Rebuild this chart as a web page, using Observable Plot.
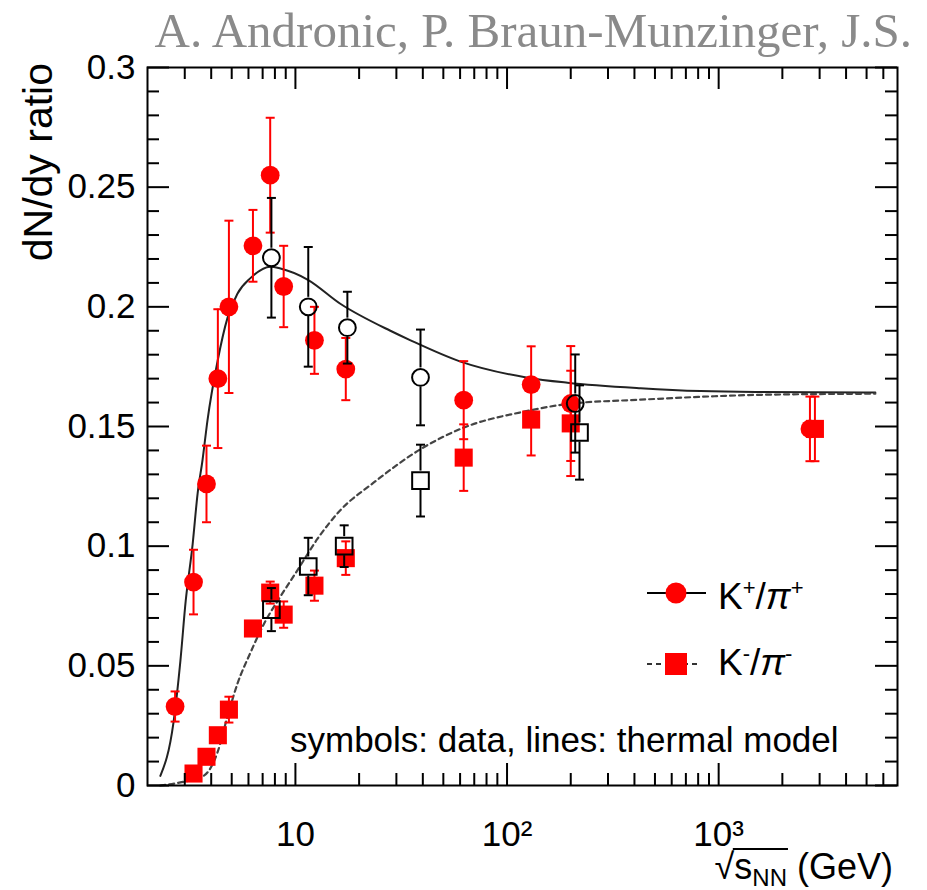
<!DOCTYPE html>
<html><head><meta charset="utf-8">
<script src="https://cdn.jsdelivr.net/npm/d3@7"></script>
<script src="https://cdn.jsdelivr.net/npm/@observablehq/plot@0.6"></script>
<style>
body{margin:0;background:#fff;}
#wrap{position:relative;width:927px;height:890px;overflow:hidden;}
#title{position:absolute;left:0;top:6px;width:912px;text-align:right;font-family:"Liberation Serif","Times New Roman",serif;font-size:49px;line-height:1;color:#8a8a8a;white-space:nowrap;z-index:2;}
</style></head><body>
<div id="wrap"><div id="chart"></div><div id="title">A. Andronic, P. Braun-Munzinger, J.S.</div></div>
<script>
// ---------- data ----------
// K+/pi+ data (red filled circles)
const kpE   = [2.7, 3.3, 3.8, 4.3, 4.85, 6.3, 7.6, 8.8, 12.3, 17.3, 62.4, 130, 200, 2700];
const kpR   = [0.033, 0.085, 0.126, 0.170, 0.200, 0.2255, 0.255, 0.2085, 0.186, 0.174, 0.161, 0.1675, 0.1596, 0.149];
const kpErr = [0.0063, 0.0135, 0.016, 0.029, 0.036, 0.015, 0.024, 0.017, 0.014, 0.013, 0.0163, 0.016, 0.024, 0.0135];
// K-/pi- data (red filled squares)
const kmE   = [3.3, 3.8, 4.3, 4.85, 6.3, 7.6, 8.8, 12.3, 17.3, 62.4, 130, 200, 2850];
const kmR   = [0.005, 0.012, 0.021, 0.0317, 0.0656, 0.0806, 0.0714, 0.0835, 0.095, 0.137, 0.1529, 0.1513, 0.149];
const kmErr = [0, 0, 0, 0.0054, 0, 0.0046, 0.0055, 0.0063, 0.007, 0.0139, 0.015, 0.022, 0.0135];
// other K+/pi+ data (black open circles)
const kpOE   = [7.7, 11.5, 17.6, 39, 210];
const kpOR   = [0.2205, 0.200, 0.1913, 0.1705, 0.1596];
const kpOErr = [0.025, 0.025, 0.015, 0.020, 0.0205];
// other K-/pi- data (black open squares)
const kmOE   = [7.7, 11.5, 17.0, 39, 220];
const kmOR   = [0.0735, 0.0915, 0.100, 0.1274, 0.1475];
const kmOErr = [0.009, 0.012, 0.0087, 0.015, 0.0197];
// thermal model curves
const thKpE = [2.30, 2.65, 2.86, 3.03, 3.27, 3.45, 3.64, 3.84, 4.29, 4.78, 5.32, 6.13, 7.62, 8.5, 11.4, 16.3, 28.1, 35, 60.3, 125, 193, 428, 820, 1500, 5500];
const thKpR = [0.004, 0.026, 0.052, 0.077, 0.101, 0.122, 0.136, 0.1525, 0.1775, 0.1955, 0.2055, 0.212, 0.2168, 0.216, 0.2114, 0.2013, 0.190, 0.186, 0.1771, 0.1704, 0.1683, 0.1660, 0.1648, 0.1644, 0.1642];
const thKmE = [2.3, 2.86, 3.68, 4.29, 4.78, 5.32, 6.13, 7.07, 8.5, 10.2, 12.7, 16.3, 23.4, 39, 60.3, 125, 193, 428, 820, 1500, 5500];
const thKmR = [0.0, 0.0013, 0.004, 0.014, 0.029, 0.0425, 0.0555, 0.0672, 0.0790, 0.0898, 0.1030, 0.1150, 0.1265, 0.1405, 0.1490, 0.1565, 0.1594, 0.1612, 0.1624, 0.1632, 0.1637];
// axes
const xDomain = [2, 7000];
const yDomain = [0, 0.3];
const xMajor = [10, 100, 1000];
const xMinor = [3,4,5,6,7,8,9, 20,30,40,50,60,70,80,90, 200,300,400,500,600,700,800,900, 2000,3000,4000,5000,6000];
const xLabels = {10: "10", 100: "10²", 1000: "10³"};
const yMajor = [0, 0.05, 0.1, 0.15, 0.2, 0.25, 0.3];
const yMinor = [0.01,0.02,0.03,0.04, 0.06,0.07,0.08,0.09, 0.11,0.12,0.13,0.14, 0.16,0.17,0.18,0.19, 0.21,0.22,0.23,0.24, 0.26,0.27,0.28,0.29];

// ---------- build ----------
const rows = (E, R, Er) => E.map((e, i) => ({e, r: R[i], err: Er ? Er[i] : 0}));
const kp = rows(kpE, kpR, kpErr), km = rows(kmE, kmR, kmErr);
const kpO = rows(kpOE, kpOR, kpOErr), kmO = rows(kmOE, kmOR, kmOErr);
const thKp = rows(thKpE, thKpR), thKm = rows(thKmE, thKmR);

const W = 927, H = 890, ML = 147, MR = 30, MT = 67, MB = 105;
const innerW = W - ML - MR, innerH = H - MT - MB;
const FONT = '"Liberation Sans", Arial, Helvetica, sans-serif';
const cap = {draw(ctx) { ctx.moveTo(-4.5, 0); ctx.lineTo(4.5, 0); }};
const TK = {stroke: "black", strokeWidth: 2};

function errMarks(data, color, gap) {
  const d = data.filter(o => o.err > 0);
  const ms = [];
  if (gap) {
    ms.push(Plot.ruleX(d, {x: "e", y1: o => o.r + o.err, y2: "r", insetBottom: gap, stroke: color, strokeWidth: 2}));
    ms.push(Plot.ruleX(d, {x: "e", y1: "r", y2: o => o.r - o.err, insetTop: gap, stroke: color, strokeWidth: 2}));
  } else {
    ms.push(Plot.ruleX(d, {x: "e", y1: o => o.r + o.err, y2: o => o.r - o.err, stroke: color, strokeWidth: 2}));
  }
  ms.push(Plot.dot(d, {x: "e", y: o => o.r + o.err, symbol: cap, fill: "none", stroke: color, strokeWidth: 2}));
  ms.push(Plot.dot(d, {x: "e", y: o => o.r - o.err, symbol: cap, fill: "none", stroke: color, strokeWidth: 2}));
  return ms;
}

const chart = Plot.plot({
  width: W, height: H,
  marginTop: MT, marginBottom: MB, marginLeft: ML, marginRight: MR,
  style: {fontFamily: FONT, fontSize: "35px", color: "black", background: "white", overflow: "visible"},
  x: {type: "log", domain: xDomain, axis: null},
  y: {domain: yDomain, axis: null},
  marks: [
    // thermal model lines
    Plot.line(thKp, {x: "e", y: "r", stroke: "#222", strokeWidth: 2, curve: "monotone-x"}),
    Plot.line(thKm, {x: "e", y: "r", stroke: "#444", strokeWidth: 2.2, strokeDasharray: "5,4", curve: "monotone-x"}),
    // red data
    ...errMarks(kp, "red", 0),
    ...errMarks(km, "red", 0),
    Plot.dot(kp, {x: "e", y: "r", r: 9.4, fill: "red", stroke: "none"}),
    Plot.dot(km, {x: "e", y: "r", r: 10.2, symbol: "square", fill: "red", stroke: "none"}),
    // black data
    ...errMarks(kpO, "black", 9.5),
    ...errMarks(kmO, "black", 9.5),
    Plot.dot(kpO, {x: "e", y: "r", r: 8.4, fill: "none", stroke: "black", strokeWidth: 2}),
    Plot.dot(kmO, {x: "e", y: "r", r: 9.4, symbol: "square", fill: "none", stroke: "black", strokeWidth: 2}),
    // frame and inward ticks
    Plot.frame({stroke: "black", strokeWidth: 2}),
    Plot.tickY(yMajor, {y: d => d, insetRight: innerW - 22, ...TK}),
    Plot.tickY(yMinor, {y: d => d, insetRight: innerW - 12, ...TK}),
    Plot.tickY(yMajor, {y: d => d, insetLeft: innerW - 22, ...TK}),
    Plot.tickY(yMinor, {y: d => d, insetLeft: innerW - 12, ...TK}),
    Plot.tickX(xMajor, {x: d => d, insetTop: innerH - 22, ...TK}),
    Plot.tickX(xMinor, {x: d => d, insetTop: innerH - 12, ...TK}),
    Plot.tickX(xMajor, {x: d => d, insetBottom: innerH - 22, ...TK}),
    Plot.tickX(xMinor, {x: d => d, insetBottom: innerH - 12, ...TK}),
    // tick labels
    Plot.axisY(yMajor, {anchor: "left", tickSize: 0, tickPadding: 12, tickFormat: d => String(d), fontSize: 35, label: null}),
    Plot.axisX(xMajor, {anchor: "bottom", tickSize: 0, tickPadding: 36, tickFormat: d => xLabels[d], fontSize: 35, label: null})
  ]
});
document.getElementById("chart").append(chart);

// ---------- annotations ----------
const svg = d3.select(chart);
// y label
svg.append("text").attr("font-family", FONT).attr("font-size", 41).attr("text-anchor", "end")
  .attr("transform", "translate(52,63) rotate(-90)").text("dN/dy ratio");
// note
svg.append("text").attr("font-family", FONT).attr("font-size", 35).attr("text-anchor", "start")
  .attr("x", 290).attr("y", 752).text("symbols: data, lines: thermal model");
// x label
const xl = svg.append("text").attr("font-family", FONT).attr("font-size", 36).attr("text-anchor", "end")
  .attr("x", 893).attr("y", 879);
xl.append("tspan").text("√");
xl.append("tspan").text("s");
xl.append("tspan").attr("font-size", 24).attr("dy", 7).text("NN");
xl.append("tspan").attr("dy", -7).text(" (GeV)");
try {
  const n = xl.node();
  const a = n.getExtentOfChar(0), b = n.getExtentOfChar(3);
  svg.append("line").attr("x1", a.x + a.width - 1.5).attr("x2", b.x + b.width + 1)
    .attr("y1", a.y + 3).attr("y2", a.y + 3).attr("stroke", "black").attr("stroke-width", 1.8);
} catch (e) {}
// legend
const lg = svg.append("g").attr("font-family", FONT).attr("text-anchor", "start");
lg.append("line").attr("x1", 647).attr("x2", 706).attr("y1", 593).attr("y2", 593).attr("stroke", "black").attr("stroke-width", 2);
lg.append("circle").attr("cx", 676).attr("cy", 593).attr("r", 10.5).attr("fill", "red");
lg.append("line").attr("x1", 647).attr("x2", 700).attr("y1", 664).attr("y2", 664).attr("stroke", "#333").attr("stroke-width", 2).attr("stroke-dasharray", "5,4");
lg.append("rect").attr("x", 665).attr("y", 653).attr("width", 22).attr("height", 22).attr("fill", "red");
function legText(y, sign) {
  const t = lg.append("text").attr("x", 718).attr("y", y).attr("font-size", 37).attr("text-anchor", "start");
  t.append("tspan").text("K");
  t.append("tspan").attr("font-size", 22).attr("dy", -14).text(sign);
  t.append("tspan").attr("dy", 14).text("/");
  t.append("tspan").attr("font-style", "italic").text("π");
  t.append("tspan").attr("font-size", 22).attr("dy", -14).text(sign);
}
legText(609, "+");
legText(675, "-");
</script>
</body></html>
